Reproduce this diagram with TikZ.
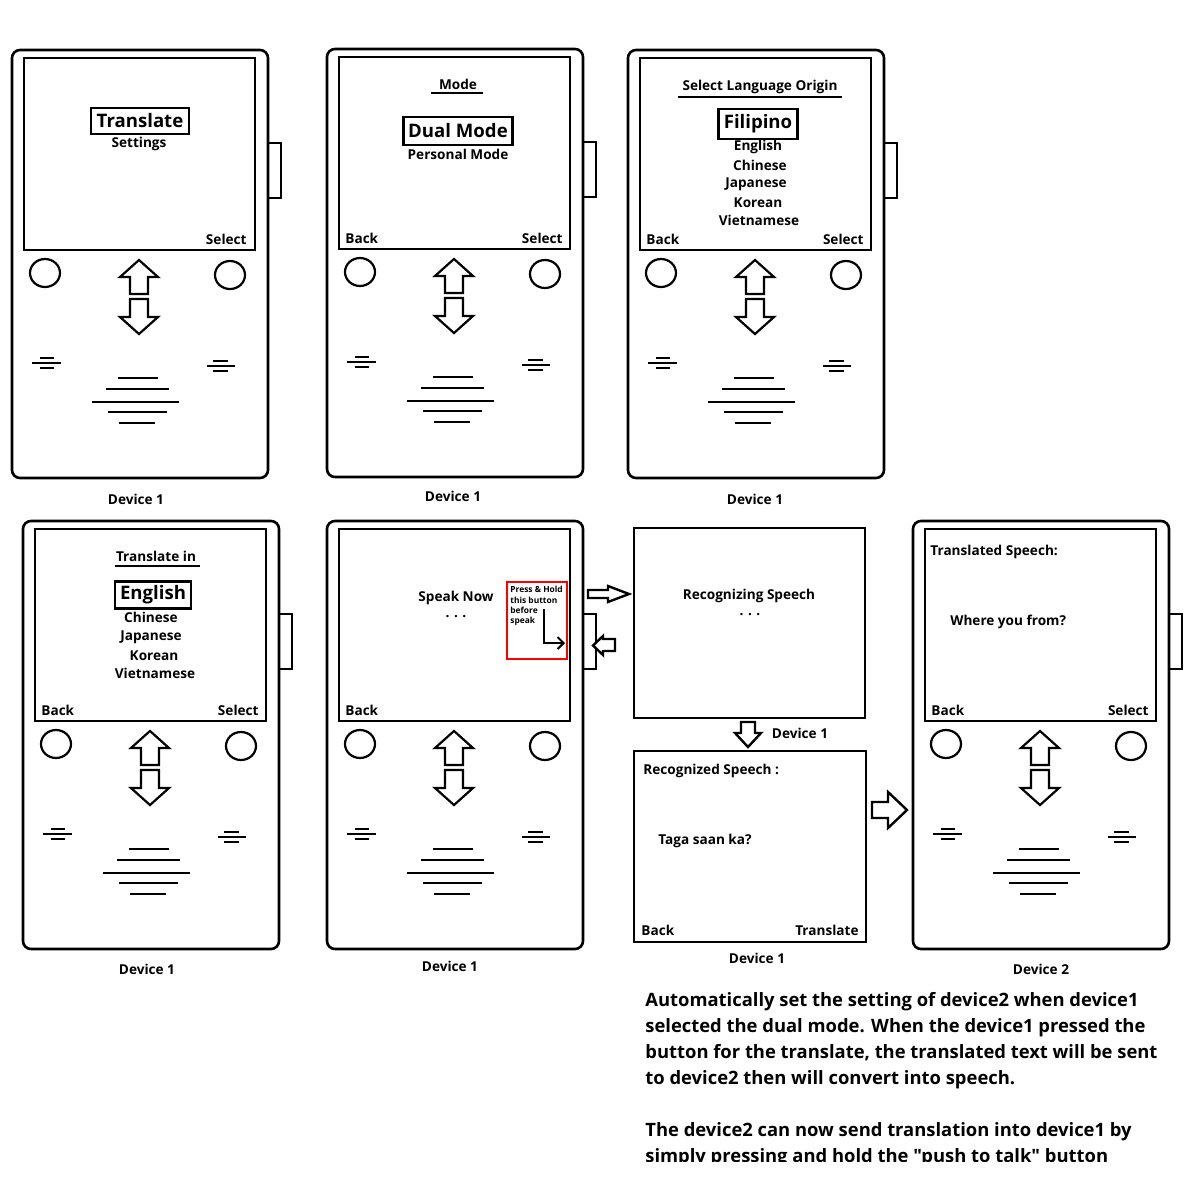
\documentclass[tikz,border=0pt]{standalone}
\usepackage{fontspec}
\setmainfont{Open Sans}[Ligatures=TeXOff]
\usetikzlibrary{arrows.meta}
\tikzset{
  body/.style={draw, line width=1.3pt, rounded corners=4pt},
  scr/.style={draw, line width=1.3pt},
  ln/.style={line width=1.1pt},
  lbl/.style={inner sep=0pt, yshift=-0.4pt, font=\bfseries\fontsize{6.8}{8}\selectfont},
  biglbl/.style={draw, line width=1.1pt, inner sep=0pt, font=\bfseries\fontsize{9.3}{11}\selectfont},
  tiny/.style={inner sep=0pt, font=\bfseries\fontsize{4.2}{5.2}\selectfont, align=left},
  para/.style={inner sep=0pt, font=\bfseries\fontsize{9.2}{13}\selectfont, align=left},
  blockarrow/.style={draw, line width=1.2pt, fill=white, line join=miter},
}
\newcommand\phonebody[2]{%
\begin{scope}[shift={(#1,#2)}]
  \draw[body] (0,0) rectangle (256,428);
  \draw[scr] (12,8) rectangle (243,200);
  \draw[scr] (256,93) rectangle (269,148);
  \draw[ln] (33,223) ellipse [x radius=15, y radius=14];
  \draw[ln] (218,225) ellipse [x radius=15, y radius=14];
  \draw[ln, line join=miter] (127,210) -- (146,227) -- (136,227) -- (136,244) -- (118,244) -- (118,227) -- (108,227) -- cycle;
  \draw[ln, line join=miter] (118,249) -- (136,249) -- (136,267) -- (146,267) -- (127,284) -- (108,267) -- (118,267) -- cycle;
  \draw[ln] (28,308) -- (42,308) (20,313) -- (49,313) (28,318) -- (42,318);
  \draw[ln] (201,311) -- (216,311) (195,316) -- (223,316) (201,321) -- (216,321);
  \draw[ln] (106,328) -- (146,328) (94,339) -- (157,339) (80,352) -- (167,352) (96,362) -- (155,362) (107,373) -- (143,373);
\end{scope}}
\begin{document}
\begin{tikzpicture}[x=0.5pt,y=-0.5pt]
\useasboundingbox (0,0) rectangle (1200,1200);

% ---------- Device A (top left) ----------
\phonebody{12}{50}
\node[biglbl, minimum width=49pt, minimum height=13pt] (a1) at (140,121) {Translate};
\node[lbl] (a2) at (139,143) {Settings};
\node[lbl, anchor=east] (a3) at (247,239) {Select};
\node[lbl] (a4) at (136,499) {Device 1};

% ---------- Device B (Mode) ----------
\phonebody{327}{49}
\node[lbl] (b1) at (458,84) {Mode};
\draw[ln] (431,93) -- (483,93);
\node[biglbl, minimum width=54.5pt, minimum height=14pt] (b2) at (458,131) {Dual Mode};
\node[lbl] (b3) at (458,154) {Personal Mode};
\node[lbl, anchor=west] (b4) at (345,238) {Back};
\node[lbl, anchor=east] (b5) at (563,238) {Select};
\node[lbl] (b6) at (453,496) {Device 1};

% ---------- Device C (Language origin) ----------
\phonebody{628}{50}
\node[lbl] (c1) at (760,86) {Select Language Origin};
\draw[ln] (678,97) -- (842,97);
\node[biglbl, minimum width=39.5pt, minimum height=15pt] (c2) at (758,124) {Filipino};
\node[lbl] (c3) at (758,146) {English};
\node[lbl] (c4) at (760,165) {Chinese};
\node[lbl] (c5) at (756,183) {Japanese};
\node[lbl] (c6) at (758,202) {Korean};
\node[lbl] (c7) at (759,220) {Vietnamese};
\node[lbl, anchor=west] (c8) at (646,239) {Back};
\node[lbl, anchor=east] (c9) at (864,239) {Select};
\node[lbl] (c10) at (755,499) {Device 1};

% ---------- Device D (Translate in) ----------
\phonebody{23}{521}
\node[lbl] (d1) at (156,556) {Translate in};
\draw[ln] (115,566) -- (200,566);
\node[biglbl, minimum width=38pt, minimum height=13.5pt] (d2) at (153,595) {English};
\node[lbl] (d3) at (151,617) {Chinese};
\node[lbl] (d4) at (151,636) {Japanese};
\node[lbl] (d5) at (154,655) {Korean};
\node[lbl] (d6) at (155,673) {Vietnamese};
\node[lbl, anchor=west] (d7) at (41,710) {Back};
\node[lbl, anchor=east] (d8) at (259,710) {Select};
\node[lbl] (d9) at (147,969) {Device 1};

% ---------- Device E (Speak now) ----------
\phonebody{327}{521}
\node[lbl] (e1) at (456,597) {Speak Now};
\node[lbl] (e2) at (456,616) {.\,\,.\,\,.};
\node[lbl, anchor=west] (e3) at (345,710) {Back};
\node[lbl] (e4) at (450,966) {Device 1};
\node[draw=red, line width=0.6pt, minimum width=30pt, minimum height=38.5pt, inner sep=0pt] (red) at (537,620.5) {};
\node[tiny, anchor=north west] (e5) at (510,586) {Press \& Hold\\this button\\before\\speak};
\coordinate (ra) at (544,609);
\coordinate (rb) at (544,643);
\coordinate (rc) at (565,643);
\draw[line width=1pt, -{Straight Barb[length=3pt,width=6pt]}] (ra) -- (rb) -- (rc);

% arrows between E and recognizing box
\draw[blockarrow] (588,590) -- (608,590) -- (608,586) -- (629,594) -- (608,602) -- (608,598) -- (588,598) -- cycle;
\draw[blockarrow] (615,639) -- (603,639) -- (603,636) -- (593,645.5) -- (603,655) -- (603,651) -- (615,651) -- cycle;

% ---------- Recognizing box ----------
\node[draw, line width=1.3pt, minimum width=115.5pt, minimum height=95pt, inner sep=0pt] (rec) at (749.5,623) {};
\node[lbl] (f1) at (749,595) {Recognizing Speech};
\node[lbl] (f2) at (750,614) {.\,\,.\,\,.};
\draw[blockarrow] (741,722) -- (755,722) -- (755,733) -- (761,733) -- (748,747) -- (735,733) -- (741,733) -- cycle;
\node[lbl] (f3) at (800,733) {Device 1};

% ---------- Recognized box ----------
\node[draw, line width=1.3pt, minimum width=116pt, minimum height=95.5pt, inner sep=0pt] (recd) at (750,846.5) {};
\node[lbl, anchor=west] (g1) at (643,770) {Recognized Speech :};
\node[lbl, anchor=west] (g2) at (658,840) {Taga saan ka?};
\node[lbl, anchor=west] (g3) at (641,930) {Back};
\node[lbl, anchor=east] (g4) at (859,930) {Translate};
\node[lbl] (g5) at (757,958) {Device 1};

\draw[blockarrow] (872,802) -- (888,802) -- (888,792) -- (907,810) -- (888,828) -- (888,818) -- (872,818) -- cycle;

% ---------- Device F (Device 2) ----------
\phonebody{913}{521}
\node[lbl, anchor=west] (h1) at (930,551) {Translated Speech:};
\node[lbl, anchor=west] (h2) at (950,621) {Where you from?};
\node[lbl, anchor=west] (h3) at (931,710) {Back};
\node[lbl, anchor=east] (h4) at (1149,710) {Select};
\node[lbl] (h5) at (1041,969) {Device 2};

% ---------- paragraph ----------
\begin{scope}
\clip (600,980) rectangle (1200,1161);
\node[para, anchor=north west] (p) at (645,992.5) {Automatically set the setting of device2 when device1\\
selected the dual mode. When the device1 pressed the\\
button for the translate, the translated text will be sent\\
to device2 then will convert into speech.\\[13pt]
The device2 can now send translation into device1 by\\
simply pressing and hold the "push to talk" button};
\end{scope}
\end{tikzpicture}
\end{document}
